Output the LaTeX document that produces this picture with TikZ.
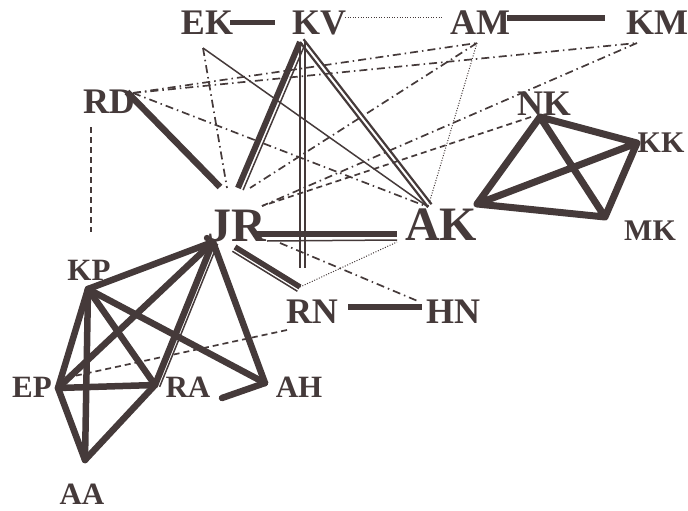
\documentclass[tikz,border=0pt]{standalone}
\usepackage{fontspec}
\setmainfont{Liberation Serif}
\usetikzlibrary{calc}
\definecolor{ink}{RGB}{69,58,58}

% two parallel strokes between the same pair of points
\newcommand\twinline[5]{%
  \draw[#1] (#3) -- (#4);
  \draw[#2] ($(#3)!#5!90:(#4)$) -- ($(#4)!#5!-90:(#3)$);}

\begin{document}
\begin{tikzpicture}[x=1pt,y=-1pt,
  lbl/.style={inner sep=0pt, anchor=base, text=ink,
    font=\bfseries\fontsize{#1}{#1}\selectfont},
  lbl/.default=30,
  heavy/.style={draw=ink, line width=6.5pt, line cap=round},
  medium/.style={draw=ink, line width=2.2pt},
  thin/.style={draw=ink, line width=1.5pt},
  dashdot/.style={draw=ink, line width=1.7pt, dash pattern=on 8pt off 4pt on 1.5pt off 4pt},
  dashline/.style={draw=ink, line width=1.7pt, dash pattern=on 6pt off 4pt},
  fine/.style={draw=ink, line width=1pt, dash pattern=on 1pt off 1.6pt}]
\useasboundingbox (0,0) rectangle (688,511);

% labels
\node[lbl=36] (EK) at (207,35) {EK};
\node[lbl=36] (KV) at (319,35) {KV};
\node[lbl=36] (AM) at (480,35) {AM};
\node[lbl=36] (KM) at (657,35) {KM};
\node[lbl=36] (RD) at (109,113) {RD};
\node[lbl=36] (NK) at (544,115) {NK};
\node[lbl=30] (KK) at (661,152) {KK};
\node[lbl=30] (MK) at (650,240) {MK};
\node[lbl=48] (JR) at (237,241) {JR};
\node[lbl=48] (AK) at (441,240) {AK};
\node[lbl=31] (KP) at (89,280) {KP};
\node[lbl=36] (RN) at (312,323) {RN};
\node[lbl=36] (HN) at (453,323) {HN};
\node[lbl=31] (EP) at (32,397) {EP};
\node[lbl=31] (RA) at (188,397) {RA};
\node[lbl=31] (AH) at (299,397) {AH};
\node[lbl=31] (AA) at (82,504) {AA};

% connector ends
\coordinate (pEK) at (203,48);
\coordinate (pEKr) at (230,23);
\coordinate (pKV) at (300,42);
\coordinate (pKVl) at (275,23);
\coordinate (pKVr) at (345,18);
\coordinate (pAM) at (477,43);
\coordinate (pAMl) at (442,18);
\coordinate (pAMr) at (507,18);
\coordinate (pKM) at (637,43);
\coordinate (pKMl) at (605,18);
\coordinate (pRD) at (133,93);
\coordinate (pRDj) at (127,92);
\coordinate (pRDb) at (91,127);
\coordinate (pNK) at (540,117);
\coordinate (pNKj) at (531,117);
\coordinate (pKK) at (637,143);
\coordinate (pMK) at (605,217);
\coordinate (pAKr) at (477,204);
\coordinate (pAKt) at (428,207);
\coordinate (pAKl) at (397,234);
\coordinate (pAKd) at (397,240);
\coordinate (pJRa) at (220,187);
\coordinate (pJRb) at (227,188);
\coordinate (pJRc) at (238,188);
\coordinate (pJRd) at (250,188);
\coordinate (pJRe) at (262,206);
\coordinate (pJRr) at (253,234);
\coordinate (pJRs) at (235,247);
\coordinate (pJRh) at (280,243);
\coordinate (pJRl) at (213,242);
\coordinate (pRNv) at (300,268);
\coordinate (pRNt) at (300,287);
\coordinate (pRNr) at (348,307);
\coordinate (pRNl) at (287,330);
\coordinate (pHNl) at (422,307);
\coordinate (pHNt) at (420,302);
\coordinate (pKPt) at (91,232);
\coordinate (pKP) at (88,289);
\coordinate (pEP) at (58,388);
\coordinate (pEPd) at (65,378);
\coordinate (pRA) at (155,385);
\coordinate (pAH) at (265,383);
\coordinate (pAHs) at (222,398);
\coordinate (pAA) at (85,460);

% top row
\draw[draw=ink, line width=5pt] (pEKr) -- (pKVl);
\draw[fine] (pKVr) -- (pAMl);
\draw[draw=ink, line width=6.5pt] (pAMr) -- (pKMl);

% ties from RD
\draw[heavy, line cap=butt] (pRDj) -- (pJRa);
\draw[dashline] (pRDb) -- (pKPt);
\draw[dashdot] (pRD) -- (pAM);
\draw[dashdot] (pRD) -- (pKM);
\draw[dashdot] (pRD) -- (pAKt);

% ties from EK
\draw[dashdot] (pEK) -- (pJRb);
\draw[thin] (pEK) -- (pAKt);

% ties from KV
\twinline{draw=ink, line width=6pt}{thin}{pJRc}{pKV}{-5.5pt}
\twinline{medium}{medium}{pKV}{pRNv}{5pt}
\twinline{medium}{medium}{pKV}{pAKt}{4.5pt}

% ties from AM and KM
\draw[fine] (pAM) -- (pAKt);
\draw[dashdot] (pAM) -- (pJRd);
\draw[dashdot] (pKM) -- (pJRe);
\draw[dashline] (pNKj) -- (pJRe);

% JR to the middle
\draw[draw=ink, line width=5.5pt] (pJRr) -- (pAKl);
\draw[thin] (267,241) -- (pAKd);
\twinline{draw=ink, line width=5.5pt}{thin}{pJRs}{pRNt}{-5pt}
\draw[dashdot] (pJRh) -- (pHNt);
\draw[fine] (pRNt) -- (397,242);
\draw[draw=ink, line width=5.5pt] (pRNr) -- (pHNl);
\draw[dashline] (pRNl) -- (pEPd);

% right cluster
\draw[draw=ink, line width=7pt, line cap=round]
  (pNK) -- (pKK) (pNK) -- (pAKr) (pNK) -- (pMK)
  (pAKr) -- (pKK) (pAKr) -- (pMK) (pKK) -- (pMK);

% lower cluster
\fill[ink] (207,238) circle (3.2pt);
\draw[heavy] (pJRl) -- (pKP);
\draw[heavy] (pJRl) -- (pEP);
\twinline{heavy}{thin}{pJRl}{pRA}{5pt}
\draw[heavy] (pJRl) -- (pAH);
\draw[heavy] (pAH) -- (pAHs);
\draw[heavy] (pKP) -- (pEP);
\draw[heavy] (pKP) -- (pAA);
\draw[heavy] (pKP) -- (pRA);
\draw[heavy] (pKP) -- (pAH);
\draw[heavy] (pEP) -- (pRA);
\draw[heavy] (pEP) -- (pAA);
\draw[heavy] (pRA) -- (pAA);
\end{tikzpicture}
\end{document}
